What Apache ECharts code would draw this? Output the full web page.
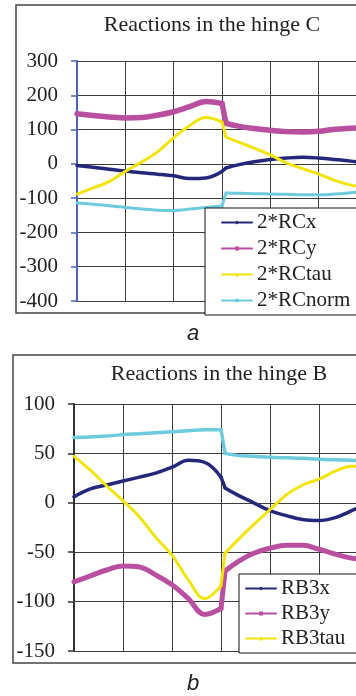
<!DOCTYPE html>
<html>
<head>
<meta charset="utf-8">
<script src="https://cdn.jsdelivr.net/npm/echarts@6/dist/echarts.min.js"></script>
<style>
  html, body { margin: 0; padding: 0; background: #fff; }
  #chart { width: 356px; height: 696px; }
</style>
</head>
<body>
<div id="chart"></div>
<script>
// x positions (sample index along the cycle), shared by both charts
const xIdx = [0, 4, 8, 12, 16, 20, 24, 28, 32, 36, 37, 40, 44, 48, 52, 56, 60, 64, 68, 72];
const jumpAt = 9; // index in xIdx where the step starts (36 -> 37)

// chart a - reactions in the hinge C
const rcx    = [-5, -10, -16, -21, -26, -30, -35, -43, -41, -22, -12, -3, 6, 13, 17, 19, 17, 13, 8, 0];
const rcy    = [146, 141, 137, 134, 135, 142, 152, 167, 182, 176, 118, 110, 103, 98, 94, 93, 95, 101, 104, 106];
const rctau  = [-88, -70, -52, -22, 5, 35, 76, 112, 135, 122, 78, 64, 46, 26, 3, -14, -30, -48, -62, -67];
const rcnorm = [-114, -118, -122, -127, -132, -135, -136, -132, -127, -123, -85, -86, -87, -88, -89, -90, -90, -88, -84, -79];

// chart b - reactions in the hinge B
const rb3x    = [6, 14, 18, 22, 26, 30, 36, 43, 41, 26, 15, 8, 0, -8, -13, -17, -18, -15, -8, 0];
const rb3y    = [-80, -74, -68, -64, -65, -73, -83, -97, -113, -107, -69, -60, -51, -46, -43, -43, -47, -52, -56, -58];
const rb3tau  = [47, 33, 17, 2, -14, -35, -53, -78, -97, -84, -51, -38, -22, -7, 8, 18, 24, 32, 37, 37];
const rb3norm = [66, 66.5, 67.5, 69, 70, 71, 72, 73, 74, 74, 50, 48, 47, 46, 45.5, 45, 44, 43.5, 43, 42.5];

const yTicksA = { min: -400, max: 300, step: 100 };
const yTicksB = { min: -150, max: 100, step: 50 };

const serif = 'Liberation Serif';
const pairs = vals => vals.map((v, i) => [xIdx[i], v]);

const chart = echarts.init(document.getElementById('chart'), null, { renderer: 'canvas' });

// each curve: smooth part before the step, the step itself, smooth part after it
function curve(name, vals, grid, color, width, symbol) {
    const pts = pairs(vals);
    const base = {
        name: name,
        type: 'line',
        xAxisIndex: grid,
        yAxisIndex: grid,
        showSymbol: false,
        symbol: symbol,
        color: color,
        lineStyle: { color: color, width: width, cap: 'round', join: 'round' },
        emphasis: { disabled: true },
        z: 3
    };
    return [
        Object.assign({}, base, { data: pts.slice(0, jumpAt + 1), smooth: 0.4 }),
        Object.assign({}, base, { data: pts.slice(jumpAt, jumpAt + 2), smooth: false }),
        Object.assign({}, base, { data: pts.slice(jumpAt + 1), smooth: 0.4 })
    ];
}

function xAxis(grid) {
    return {
        gridIndex: grid,
        type: 'value',
        min: 0,
        max: 72,
        interval: 12,
        axisLine: { show: false },
        axisTick: { show: false },
        axisLabel: { show: false },
        splitLine: { show: true, lineStyle: { color: '#3c3c3c', width: 1 } }
    };
}

function yAxis(grid, t, axisColor) {
    return {
        gridIndex: grid,
        type: 'value',
        min: t.min,
        max: t.max,
        interval: t.step,
        axisLine: { show: true, lineStyle: { color: axisColor, width: 2 } },
        axisTick: { show: true, length: 6, lineStyle: { color: axisColor, width: 1.5 } },
        axisLabel: { fontFamily: serif, fontSize: 21, color: '#222', margin: 19 },
        splitLine: { show: true, lineStyle: { color: '#3c3c3c', width: 1 } }
    };
}

function legend(names, left, top, padding, gap) {
    return {
        data: names,
        orient: 'vertical',
        left: left,
        top: top,
        padding: padding,
        itemWidth: 30,
        itemHeight: 5,
        itemGap: gap,
        backgroundColor: '#fff',
        borderColor: '#111',
        borderWidth: 1,
        borderRadius: 0,
        lineStyle: { width: 2 },
        textStyle: { fontFamily: serif, fontSize: 21, color: '#222' }
    };
}

const option = {
    backgroundColor: '#fff',
    animation: false,
    title: [
        { text: 'Reactions in the hinge C', left: 207, top: 9, textAlign: 'center',
          textStyle: { fontFamily: serif, fontSize: 22, fontWeight: 'normal', color: '#222' } },
        { text: 'Reactions in the hinge B', left: 214, top: 358, textAlign: 'center',
          textStyle: { fontFamily: serif, fontSize: 22, fontWeight: 'normal', color: '#222' } }
    ],
    grid: [
        { left: 77, top: 61, width: 290, height: 240, outerBoundsMode: 'none' },
        { left: 74, top: 404, width: 294, height: 247, outerBoundsMode: 'none' }
    ],
    xAxis: [xAxis(0), xAxis(1)],
    yAxis: [yAxis(0, yTicksA, '#4b63b5'), yAxis(1, yTicksB, '#333')],
    legend: [
        legend(['2*RCx', '2*RCy', '2*RCtau', '2*RCnorm'], 205, 208, [4, 80, 4, 16], 5),
        legend(['RB3x', 'RB3y', 'RB3tau'], 239, 574, [4, 80, 4, 6], 4)
    ],
    graphic: [
        { type: 'rect', shape: { x: 16, y: 5, width: 400, height: 308 }, silent: true, z: -1,
          style: { fill: 'none', stroke: '#444', lineWidth: 1.5 } },
        { type: 'rect', shape: { x: 13, y: 355, width: 400, height: 308 }, silent: true, z: -1,
          style: { fill: 'none', stroke: '#444', lineWidth: 1.5 } },
        { type: 'text', x: 193, y: 334, silent: true,
          style: { text: 'a', fontFamily: 'Liberation Sans', fontStyle: 'italic', fontSize: 22,
                   fill: '#222', textAlign: 'center', textVerticalAlign: 'middle' } },
        { type: 'text', x: 193, y: 684, silent: true,
          style: { text: 'b', fontFamily: 'Liberation Sans', fontStyle: 'italic', fontSize: 22,
                   fill: '#222', textAlign: 'center', textVerticalAlign: 'middle' } }
    ],
    series: [].concat(
        curve('2*RCx', rcx, 0, '#25287a', 3.5, 'diamond'),
        curve('2*RCy', rcy, 0, '#b84f9f', 5.5, 'rect'),
        curve('2*RCtau', rctau, 0, '#f2e50c', 3, 'triangle'),
        curve('2*RCnorm', rcnorm, 0, '#6dcbdc', 3, 'circle'),
        curve('RB3x', rb3x, 1, '#25287a', 3.5, 'diamond'),
        curve('RB3y', rb3y, 1, '#b84f9f', 5, 'rect'),
        curve('RB3tau', rb3tau, 1, '#f2e50c', 3, 'triangle'),
        curve('RB3norm', rb3norm, 1, '#6dcbdc', 3.5, 'circle')
    )
};

chart.setOption(option);
</script>
</body>
</html>
